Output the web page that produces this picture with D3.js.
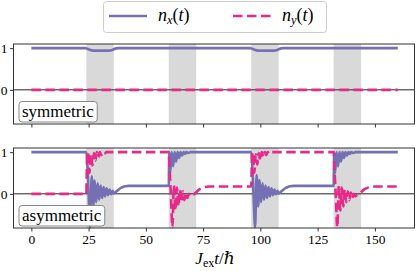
<!DOCTYPE html>
<html>
<head>
    <meta charset="utf-8" />
    <title>n_x / n_y pulses</title>
    <style>
        html, body {
            margin: 0;
            padding: 0;
            background-color: #fff;
        }
    </style>
</head>
<body>
    <div class="canvas"></div>
    <script src="https://d3js.org/d3.v7.min.js"></script>
    <script>
        // values, [t, n]
        var xTicks = [0, 25, 50, 75, 100, 125, 150];
        var yTicks = [0, 1];
        var pulses = [[24, 36], [60, 72], [96, 108], [132, 144]];
        var panelNames = ["symmetric", "asymmetric"];
        var legendSubs = ["x", "y"];

        var symNx = [[0,1],[23.5,1],[24.5,0.985],[25.5,0.96],[27,0.94],[34,0.94],[35,0.95],[36,0.975],[37,0.995],[38,1],
            [95.5,1],[96.5,0.985],[97.5,0.96],[99,0.94],[106,0.94],[107,0.95],[108,0.975],[109,0.995],[110,1],[160,1]];
        var symNy = [[0,0],[160,0]];

        var asymNx = [[0,1],[24,1],[24.4,0.75],[25.0,0.0],[25.7,-0.8],[26.35,0.42],[27.0,-0.3],[27.65,0.32],[28.3,-0.2],
            [28.95,0.25],[29.6,-0.14],[30.25,0.2],[30.9,-0.1],[31.55,0.16],[32.2,-0.06],[32.85,0.13],[33.5,-0.03],
            [34.15,0.1],[34.8,-0.01],[35.45,0.07],[36.1,0.01],[37,0.05],[38,0.1],[39,0.14],[40,0.165],[41,0.18],[42.5,0.19],[60,0.19],
            [60.2,1.0],[60.6,0.5],[61.25,1.0],[61.9,0.66],[62.55,1.0],[63.2,0.78],[63.85,1.0],[64.5,0.86],[65.15,1.0],
            [65.8,0.92],[66.45,1.0],[67.1,0.96],[67.75,1.0],[68.4,0.98],[69.5,1.0],[96,1.0],
            [96.4,0.75],[97.0,0.0],[97.7,-0.8],[98.35,0.45],[99.0,-0.3],[99.65,0.33],[100.3,-0.2],[100.95,0.25],
            [101.6,-0.14],[102.25,0.2],[102.9,-0.1],[103.55,0.16],[104.2,-0.06],[104.85,0.13],[105.5,-0.03],[106.15,0.1],
            [106.8,-0.01],[107.45,0.07],[108.1,0.01],[109,0.05],[110,0.1],[111,0.14],[112,0.165],[113,0.18],[114.5,0.19],[132,0.19],
            [132.2,1.0],[132.6,0.5],[133.25,1.0],[133.9,0.66],[134.55,1.0],[135.2,0.78],[135.85,1.0],[136.5,0.86],
            [137.15,1.0],[137.8,0.92],[138.45,1.0],[139.1,0.96],[139.75,1.0],[140.4,0.98],[141.5,1.0],[160,1.0]];

        var asymNy = [[0,0],[24,0],[24.3,0.8],[24.7,1.0],[25.35,0.5],[26.0,0.95],[26.65,0.68],[27.3,0.98],[27.95,0.8],
            [28.6,1.0],[29.25,0.88],[29.9,1.0],[30.55,0.93],[31.2,1.0],[31.85,0.96],[32.8,1.0],[60,1.0],
            [60.4,0.55],[60.9,0.0],[61.6,-0.8],[62.25,0.2],[62.9,-0.4],[63.55,0.15],[64.2,-0.3],[64.85,0.1],[65.5,-0.2],
            [66.15,0.06],[66.8,-0.15],[67.45,0.03],[68.1,-0.1],[68.75,0.0],[69.4,-0.06],[70.2,-0.03],[71.2,0.0],[72.2,0.05],
            [73.2,0.1],[74.2,0.13],[75.2,0.155],[76.5,0.17],[78,0.175],[96,0.175],
            [96.3,0.8],[96.7,1.0],[97.35,0.5],[98.0,0.95],[98.65,0.7],[99.3,0.98],[99.95,0.8],[100.6,1.0],[101.25,0.88],
            [101.9,1.0],[102.55,0.93],[103.2,1.0],[103.85,0.96],[104.8,1.0],[132,1.0],
            [132.4,0.55],[132.9,0.0],[133.6,-0.8],[134.25,0.2],[134.9,-0.4],[135.55,0.15],[136.2,-0.3],[136.85,0.1],
            [137.5,-0.2],[138.15,0.06],[138.8,-0.15],[139.45,0.03],[140.1,-0.1],[140.75,0.0],[141.4,-0.06],[142.2,-0.03],
            [143.2,0.0],[144.2,0.05],[145.2,0.1],[146.2,0.13],[147.2,0.155],[148.5,0.17],[150,0.175],[160,0.175]];

        var width = 416, height = 271;
        var purple = "#7570b3", pink = "#e7298a";
        var serif = "'Liberation Serif', 'Times New Roman', 'DejaVu Serif', serif";
        var left = 13.5, right = 414.5;

        var svg = d3.select(".canvas")
                    .append("svg")
                    .attr("width", width)
                    .attr("height", height)
                    .style("display", "block");

        var x = d3.scaleLinear().domain([-7.8, 167.3]).range([left, right]);

        var panels = [
            {top: 44, bottom: 124, nx: symNx, ny: symNy, name: panelNames[0], labels: false},
            {top: 148, bottom: 228, nx: asymNx, ny: asymNy, name: panelNames[1], labels: true}
        ];

        panels.forEach(function(p) {
            var y = d3.scaleLinear().domain([-0.82, 1.1]).range([p.bottom, p.top]);
            var g = svg.append("g");

            g.selectAll("rect.pulse")
                .data(pulses)
                .enter().append("rect")
                .attr("x", function(d){ return x(d[0]); })
                .attr("width", function(d){ return x(d[1]) - x(d[0]); })
                .attr("y", p.top)
                .attr("height", p.bottom - p.top)
                .attr("fill", "#d9d9d9");

            // zero line
            g.append("line")
                .attr("x1", left).attr("x2", right)
                .attr("y1", y(0)).attr("y2", y(0))
                .attr("stroke", "#222")
                .attr("stroke-width", 1);

            var line = d3.line()
                .x(function(d){ return x(d[0]); })
                .y(function(d){ return y(d[1]); })
                .curve(d3.curveMonotoneX);

            g.append("path")
                .attr("d", line(p.nx))
                .attr("fill", "none")
                .attr("stroke", purple)
                .attr("stroke-width", 2.6)
                .attr("stroke-linejoin", "round");

            g.append("path")
                .attr("d", line(p.ny))
                .attr("fill", "none")
                .attr("stroke", pink)
                .attr("stroke-width", 2.6)
                .attr("stroke-dasharray", "9.5,4.5");

            var xAxis = d3.axisBottom(x).tickValues(xTicks).tickSize(3.5).tickPadding(2);
            if (!p.labels) xAxis.tickFormat("");
            var gx = g.append("g")
                .attr("transform", "translate(0," + p.bottom + ")")
                .call(xAxis);
            var yAxis = d3.axisLeft(y).tickValues(yTicks).tickSize(3.5).tickPadding(2.5).tickFormat(d3.format("d"));
            var gy = g.append("g")
                .attr("transform", "translate(" + left + ",0)")
                .call(yAxis);
            [gx, gy].forEach(function(a) {
                a.attr("font-family", null).attr("font-size", null);
                a.select(".domain").remove();
                a.selectAll(".tick line").attr("stroke", "#333");
                a.selectAll(".tick text")
                    .style("font-family", serif)
                    .style("font-size", "13.5px");
            });
            gx.selectAll(".tick text").attr("dy", "0.75em");
            gy.selectAll(".tick text").attr("dy", "0.35em");

            // frame
            g.append("rect")
                .attr("x", left).attr("y", p.top)
                .attr("width", right - left).attr("height", p.bottom - p.top)
                .attr("fill", "none")
                .attr("stroke", "#333")
                .attr("stroke-width", 1);

            // label box in lower left
            var lab = g.append("text")
                .attr("x", 22)
                .attr("y", p.bottom - 7)
                .style("font-family", serif)
                .style("font-size", "17px")
                .text(p.name);
            var bb = lab.node().getBBox();
            g.insert("rect", function(){ return lab.node(); })
                .attr("x", 19).attr("y", p.bottom - 22.5)
                .attr("width", bb.width + 6).attr("height", 20.5)
                .attr("rx", 3)
                .attr("fill", "#fff")
                .attr("stroke", "#888")
                .attr("stroke-width", 1);
        });

        // x axis label
        var xl = svg.append("text")
            .attr("x", 215)
            .attr("y", 264)
            .attr("text-anchor", "middle")
            .style("font-family", serif)
            .style("font-size", "17px");
        xl.append("tspan").style("font-style", "italic").text("J");
        xl.append("tspan").attr("dy", 3).style("font-size", "12px").text("ex");
        xl.append("tspan").attr("dy", -3).style("font-style", "italic").text("t");
        xl.append("tspan").text("/");
        xl.append("tspan").style("font-style", "italic").text("\u210F");

        // legend
        var legend = svg.append("g");
        legend.append("rect")
            .attr("x", 103.5).attr("y", 1.5)
            .attr("width", 223).attr("height", 31)
            .attr("rx", 3)
            .attr("fill", "#fff")
            .attr("stroke", "#ccc")
            .attr("stroke-width", 1);
        var legendItems = [
            {x: 109, color: purple, dash: null, sub: legendSubs[0]},
            {x: 233, color: pink, dash: "9.5,4.5", sub: legendSubs[1]}
        ];
        legendItems.forEach(function(d) {
            legend.append("line")
                .attr("x1", d.x).attr("x2", d.x + 38)
                .attr("y1", 16).attr("y2", 16)
                .attr("stroke", d.color)
                .attr("stroke-width", 2.6)
                .attr("stroke-dasharray", d.dash);
            var t = legend.append("text")
                .attr("x", d.x + 49)
                .attr("y", 21)
                .style("font-family", serif)
                .style("font-size", "18px");
            t.append("tspan").style("font-style", "italic").text("n");
            t.append("tspan").attr("dy", 3).style("font-style", "italic").style("font-size", "12.5px").text(d.sub);
            t.append("tspan").attr("dy", -3).text("(");
            t.append("tspan").style("font-style", "italic").text("t");
            t.append("tspan").text(")");
        });
    </script>
</body>
</html>
